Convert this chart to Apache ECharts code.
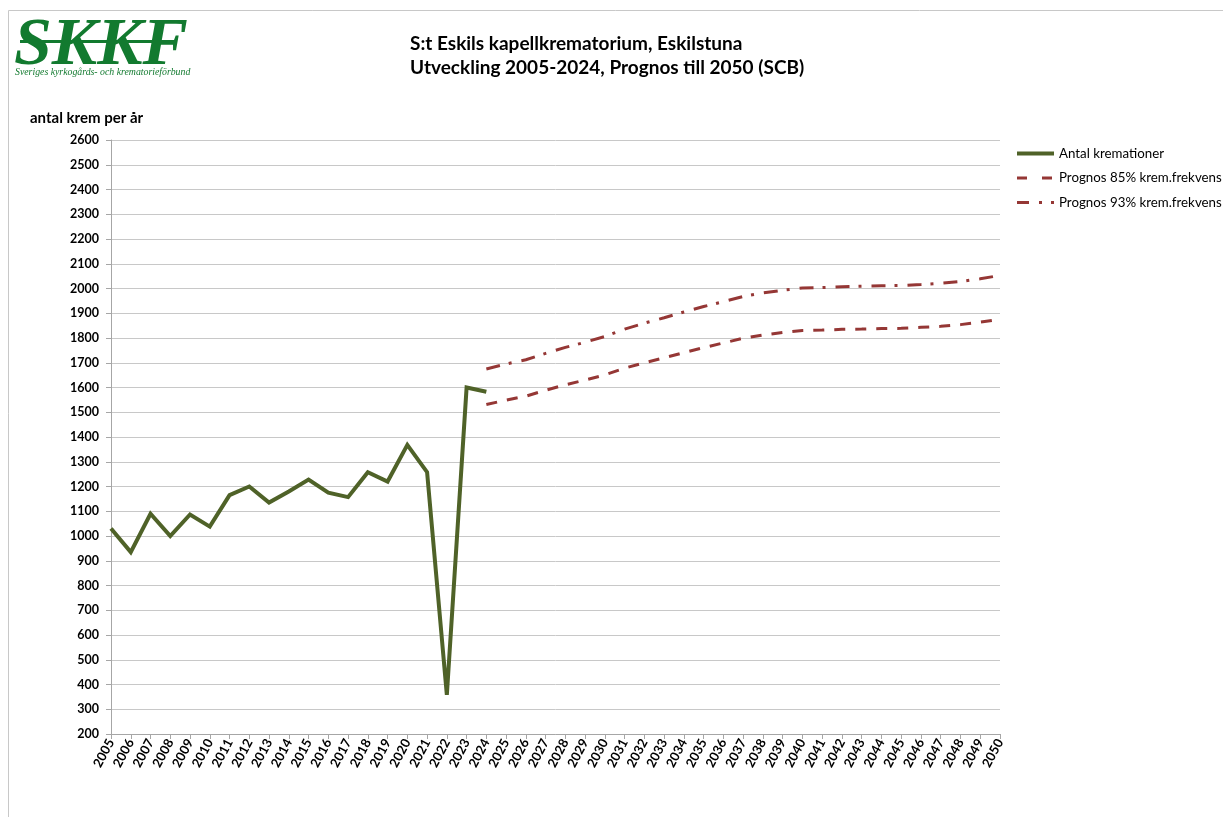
<!DOCTYPE html>
<html>
<head>
<meta charset="utf-8">
<script src="https://cdn.jsdelivr.net/npm/echarts@6/dist/echarts.min.js"></script>
<style>
html,body{margin:0;padding:0;background:#fff;}
#c{width:1223px;height:817px;}
</style>
</head>
<body>
<div id="c"></div>
<script>
var years = [];
for (var y = 2005; y <= 2050; y++) years.push(String(y));

var yTicks = [200,300,400,500,600,700,800,900,1000,1100,1200,1300,1400,1500,1600,1700,1800,1900,2000,2100,2200,2300,2400,2500,2600];

// Antal kremationer 2005-2024
var actual = [1030, 935, 1090, 1000, 1087, 1038, 1165, 1200, 1135, 1180, 1228, 1175, 1157, 1258, 1220, 1368, 1258, 358, 1600, 1583];

// Prognos 85% 2024-2050
var prog85 = [1531, 1549, 1565, 1589, 1611, 1630, 1651, 1678, 1700, 1720, 1741, 1761, 1780, 1799, 1812, 1822, 1830, 1832, 1835, 1836, 1838, 1839, 1843, 1847, 1854, 1864, 1876];

// Prognos 93% 2024-2050
var prog93 = [1675, 1695, 1712, 1738, 1762, 1783, 1806, 1836, 1860, 1882, 1905, 1927, 1947, 1968, 1982, 1993, 2002, 2004, 2007, 2009, 2011, 2012, 2016, 2021, 2028, 2039, 2053];

var names = ['Antal kremationer', 'Prognos 85% krem.frekvens', 'Prognos 93% krem.frekvens'];

function pad(arr, startIdx) {
  var out = [];
  for (var i = 0; i < years.length; i++) {
    var j = i - startIdx;
    out.push(j >= 0 && j < arr.length ? arr[j] : null);
  }
  return out;
}

var GREEN = '#4f6228', RED = '#953735';
var FONT = 'Lato, "Open Sans", sans-serif';
var chart = echarts.init(document.getElementById('c'), null, {renderer: 'canvas'});
chart.setOption({
  animation: false,
  backgroundColor: '#ffffff',
  title: [
    {
      text: 'S:t Eskils kapellkrematorium, Eskilstuna\nUtveckling 2005-2024, Prognos till 2050 (SCB)',
      left: 405, top: 27,
      textStyle: {fontFamily: FONT, fontSize: 19, fontWeight: 'bold', color: '#000', lineHeight: 24}
    },
    {
      text: 'antal krem per år',
      left: 25, top: 106,
      textStyle: {fontFamily: FONT, fontSize: 15, fontWeight: 'bold', color: '#000'}
    }
  ],
  legend: {
    orient: 'vertical',
    left: 1010, top: 142,
    itemWidth: 37, itemHeight: 14, itemGap: 11.5,
    itemStyle: {opacity: 0},
    data: [
      {name: names[0], lineStyle: {width: 4, color: GREEN}, itemStyle: {opacity: 0}},
      {name: names[1], lineStyle: {width: 3, color: RED, type: [10, 15]}, itemStyle: {opacity: 0}},
      {name: names[2], lineStyle: {width: 3, color: RED, type: [12, 10, 3, 9]}, itemStyle: {opacity: 0}}
    ],
    textStyle: {fontFamily: FONT, fontSize: 13.3, color: '#000'}
  },
  grid: {left: 111, right: 223, top: 140, bottom: 83, containLabel: false},
  xAxis: {
    type: 'category',
    data: years,
    boundaryGap: false,
    axisLine: {lineStyle: {color: '#a6a6a6', width: 1}},
    axisTick: {show: true, alignWithLabel: true, length: 5, lineStyle: {color: '#a6a6a6'}},
    axisLabel: {interval: 0, rotate: 62, fontFamily: FONT, fontSize: 13, fontWeight: 'bold', color: '#000', margin: 6},
    splitLine: {show: false}
  },
  yAxis: {
    type: 'value',
    min: yTicks[0], max: yTicks[yTicks.length - 1], interval: 100,
    axisLine: {show: true, lineStyle: {color: '#a6a6a6', width: 1}},
    axisTick: {show: true, length: 5, lineStyle: {color: '#a6a6a6'}},
    axisLabel: {fontFamily: FONT, fontSize: 12.5, fontWeight: 'bold', color: '#000', margin: 12, formatter: function (v) { return String(v); }},
    splitLine: {show: true, lineStyle: {color: '#c8c8c8', width: 1}}
  },
  series: [
    {
      name: names[0], type: 'line', data: pad(actual, 0), symbol: 'none',
      lineStyle: {color: GREEN, width: 4, join: 'miter'},
      itemStyle: {color: GREEN}, connectNulls: false
    },
    {
      name: names[1], type: 'line', data: pad(prog85, 19), symbol: 'none',
      lineStyle: {color: RED, width: 3, type: [11, 10]},
      itemStyle: {color: RED}
    },
    {
      name: names[2], type: 'line', data: pad(prog93, 19), symbol: 'none',
      lineStyle: {color: RED, width: 3, type: [14, 9, 3, 10]},
      itemStyle: {color: RED}
    }
  ],
  graphic: [
    {type: 'polyline', shape: {points: [[8.5, 817], [8.5, 10.5], [1223, 10.5]]}, style: {stroke: '#c8c8c8', lineWidth: 1, fill: null}, silent: true},
    {type: 'text', left: 14, top: 12, style: {text: 'SKKF', font: 'italic bold 68px "Liberation Serif", "DejaVu Serif", serif', fill: '#127a2f'}},
    {type: 'rect', shape: {x: 20, y: 40, width: 154, height: 3}, style: {fill: '#127a2f'}},
    {type: 'text', left: 15, top: 67, style: {text: 'Sveriges kyrkogårds- och krematorieförbund', font: 'italic 9.8px "Liberation Serif", "DejaVu Serif", serif', fill: '#127a2f'}}
  ]
});
</script>
</body>
</html>
